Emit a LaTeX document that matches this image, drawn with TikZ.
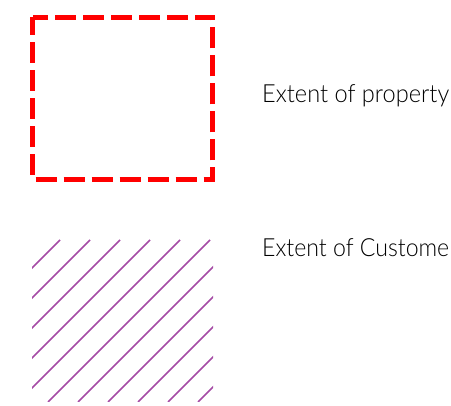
\documentclass[tikz,border=0pt]{standalone}
\usepackage{fontspec}
\usepackage{graphicx}
\setmainfont{Lato}[UprightFont=* Light]
\definecolor{propred}{RGB}{255,0,0}
\definecolor{hatchpurple}{RGB}{165,75,165}
\newcommand{\fitlabel}[1]{\resizebox{187pt}{\height}{#1}}
\begin{document}
\begin{tikzpicture}[x=1pt,y=-1pt,
  propbox/.style={draw=propred,line width=4.5pt,dash pattern=on 21pt off 7pt,dash phase=3pt},
  hatchline/.style={draw=hatchpurple,line width=1.6pt},
  legendtext/.style={anchor=base west,inner sep=0pt,font=\fontsize{25}{29}\selectfont}]
\useasboundingbox (0,0) rectangle (451,406);
\clip (0,0) rectangle (451,406);
\draw[propbox] (32.5,17.5) rectangle (212.5,179.5);
\begin{scope}
\clip (32,240) rectangle (213,402);
\foreach \c in {300,330,...,600}{
  \draw[hatchline] (\c-402,402) -- (\c-240,240);
}
\end{scope}
\node[legendtext] (prop) at (262,103) {\fitlabel{Extent of property}};
\node[legendtext] (cust) at (262,256.7) {\fitlabel{Extent of Custome}};
\end{tikzpicture}
\end{document}
